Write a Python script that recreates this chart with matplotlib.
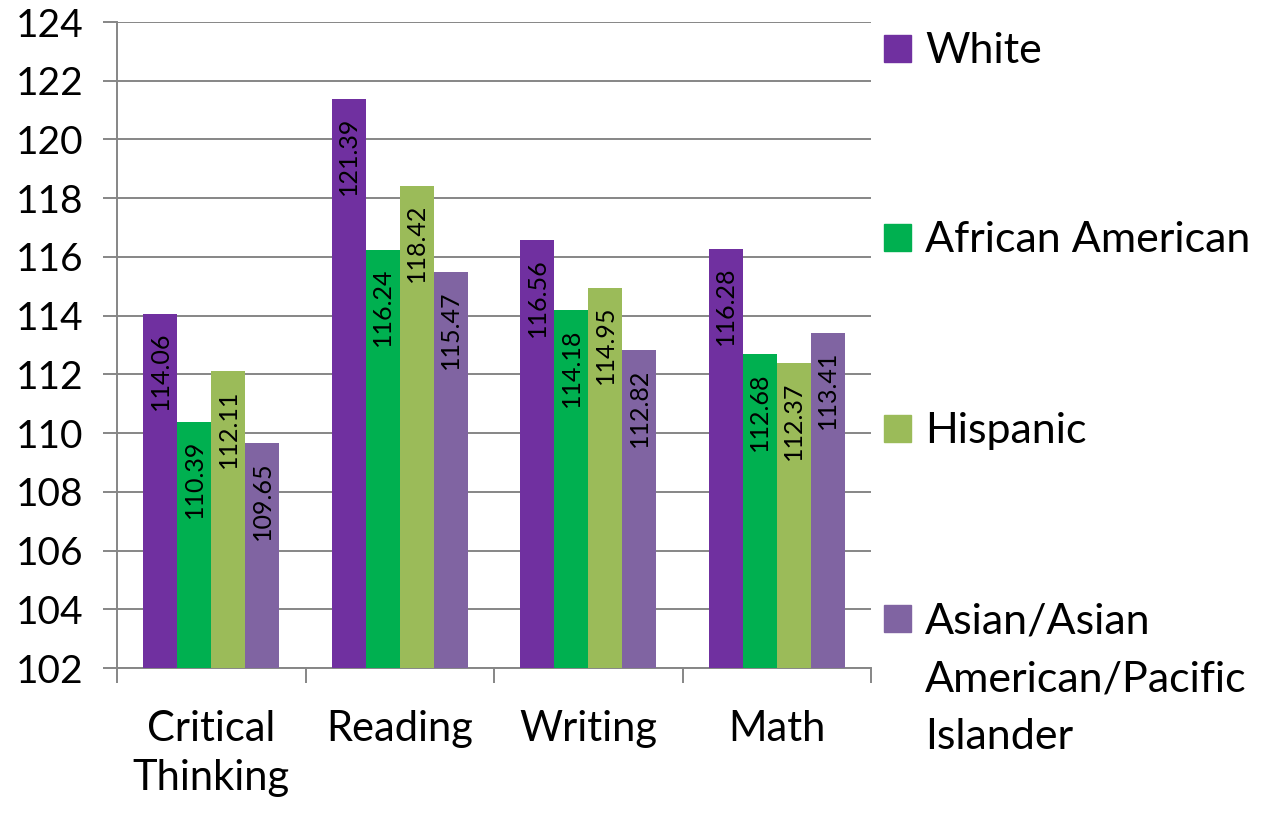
import matplotlib.pyplot as plt
import numpy as np
from matplotlib.patches import Rectangle

plt.rcParams['font.family'] = ['Lato', 'DejaVu Sans']

categories = ["Critical\nThinking", "Reading", "Writing", "Math"]
groups = ["White", "African American", "Hispanic",
          "Asian/Asian\nAmerican/Pacific\nIslander"]
white = [114.06, 121.39, 116.56, 116.28]
african_american = [110.39, 116.24, 114.18, 112.68]
hispanic = [112.11, 118.42, 114.95, 112.37]
asian = [109.65, 115.47, 112.82, 113.41]
colours = ["#7030A0", "#00B050", "#9BBB59", "#8064A2"]

series = [white, african_american, hispanic, asian]
y_ticks = list(range(102, 125, 2))

fig = plt.figure(figsize=(12.63, 8.13), dpi=100)
ax = fig.add_axes([117 / 1263, 1 - 668 / 813, (871 - 117) / 1263, (668 - 22) / 813])

x = np.arange(len(categories))
width = 0.18
grid_col = "#868686"

for i, (vals, col) in enumerate(zip(series, colours)):
    pos = x + (i - 1.5) * width
    ax.bar(pos, np.array(vals) - 102, width=width, bottom=102, color=col,
           zorder=3, linewidth=0)
    for px, v in zip(pos, vals):
        ax.annotate(f"{v:.2f}", xy=(px, v), xytext=(0, -13),
                    textcoords="offset points", rotation=90,
                    ha="center", va="top", fontsize=18, zorder=4)

ax.set_ylim(102, 124)
ax.set_xlim(-0.5, len(categories) - 0.5)
ax.set_yticks(y_ticks)
ax.yaxis.grid(True, color=grid_col, linewidth=1.4, zorder=0)
ax.set_xticks(x)
ax.set_xticklabels(categories, fontsize=30, linespacing=1.35)
ax.set_xticks(np.arange(len(categories) + 1) - 0.5, minor=True)
ax.tick_params(axis="x", which="major", length=0, pad=30)
ax.tick_params(axis="x", which="minor", length=11, width=1.4, color=grid_col)
ax.tick_params(axis="y", length=10, width=1.4, color=grid_col, labelsize=28, pad=14)

for side in ["top", "right"]:
    ax.spines[side].set_visible(False)
for side in ["left", "bottom"]:
    ax.spines[side].set_color(grid_col)
    ax.spines[side].set_linewidth(1.4)

# legend drawn by hand so the box lines up with the first text line
legend_base = [63, 252, 443, 633]
line_step = 58
for name, col, base in zip(groups, colours, legend_base):
    fig.patches.append(Rectangle((884 / 1263, 1 - (base - 1) / 813), 27 / 1263, 27 / 813,
                                 transform=fig.transFigure, color=col))
    for k, line in enumerate(name.split("\n")):
        fig.text(925 / 1263, 1 - (base + k * line_step) / 813, line, fontsize=31,
                 va="baseline", ha="left")

fig.savefig("out.png", dpi=100)
